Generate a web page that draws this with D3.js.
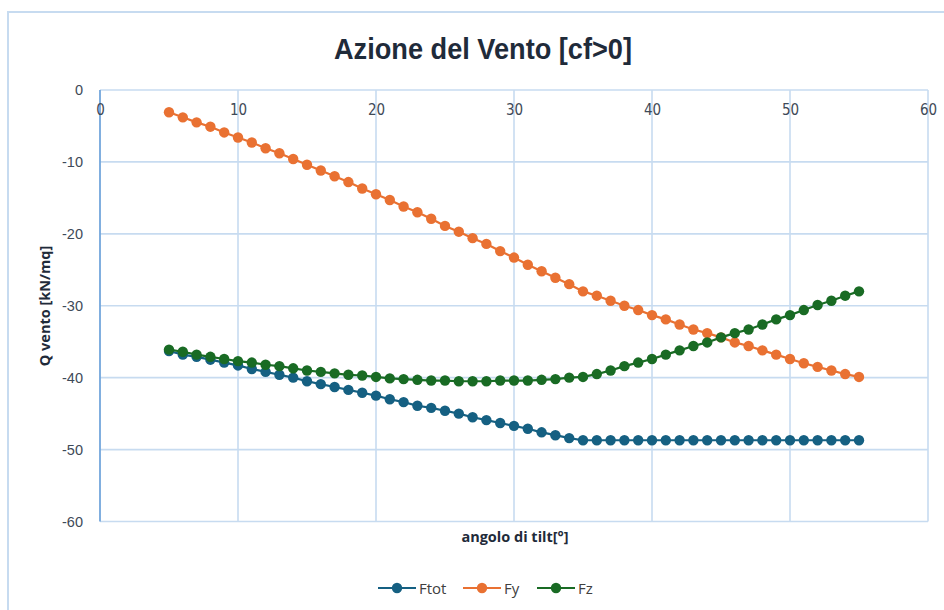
<!DOCTYPE html>
<html>
<head>
<meta charset="utf-8">
<script src="https://cdn.jsdelivr.net/npm/d3@7"></script>
<style>
  html, body { margin: 0; padding: 0; background: #ffffff; }
  svg { display: block; }
</style>
</head>
<body>
<svg id="chart" width="944" height="610"></svg>
<script>
// Tilt angles (degrees)
const tiltAngles = d3.range(5, 56);

// Wind action components [kN/mq]
const fTot = [
  -36.3, -36.8, -37.1, -37.5, -37.9, -38.3, -38.8, -39.2, -39.6, -40.0,
  -40.5, -40.9, -41.3, -41.7, -42.1, -42.5, -43.0, -43.4, -43.9, -44.2,
  -44.6, -45.0, -45.5, -45.9, -46.3, -46.7, -47.1, -47.6, -48.0, -48.4,
  -48.7, -48.7, -48.7, -48.7, -48.7, -48.7, -48.7, -48.7, -48.7, -48.7,
  -48.7, -48.7, -48.7, -48.7, -48.7, -48.7, -48.7, -48.7, -48.7, -48.7,
  -48.7
];
const fY = [
  -3.1, -3.8, -4.5, -5.1, -5.9, -6.6, -7.3, -8.1, -8.8, -9.6,
  -10.4, -11.2, -12.0, -12.8, -13.7, -14.5, -15.3, -16.2, -17.0, -17.9,
  -18.9, -19.7, -20.6, -21.4, -22.4, -23.3, -24.3, -25.2, -26.1, -27.0,
  -28.0, -28.6, -29.3, -30.0, -30.6, -31.3, -31.9, -32.6, -33.3, -33.8,
  -34.4, -35.1, -35.6, -36.2, -36.8, -37.4, -38.0, -38.5, -39.0, -39.5,
  -39.9
];
const fZ = [
  -36.1, -36.4, -36.8, -37.1, -37.4, -37.7, -37.9, -38.2, -38.4, -38.7,
  -39.0, -39.2, -39.4, -39.6, -39.7, -39.9, -40.1, -40.2, -40.3, -40.4,
  -40.4, -40.5, -40.5, -40.5, -40.4, -40.4, -40.4, -40.3, -40.2, -40.0,
  -39.9, -39.5, -39.0, -38.4, -37.9, -37.4, -36.8, -36.2, -35.6, -35.1,
  -34.4, -33.8, -33.3, -32.6, -31.9, -31.3, -30.6, -29.9, -29.3, -28.6,
  -28.0
];

const seriesNames = ["Ftot", "Fy", "Fz"];
const seriesColors = ["#156082", "#E97132", "#196B24"];
const seriesValues = [fTot, fY, fZ];

const xTicks = [0, 10, 20, 30, 40, 50, 60];
const yTicks = [0, -10, -20, -30, -40, -50, -60];

const chartTitle = "Azione del Vento [cf>0]";
const xTitle = "angolo di tilt[°]";
const yTitle = "Q vento [kN/mq]";

const svg = d3.select("#chart");
const plot = { left: 100, right: 928, top: 90, bottom: 521.5 };

const x = d3.scaleLinear().domain([0, 60]).range([plot.left, plot.right]);
const y = d3.scaleLinear().domain([-60, 0]).range([plot.bottom, plot.top]);

const gridColor = "#c7dbf0";
const textColor = "#3e4a58";
const plainNumber = d => String(d);

// Outer chart frame
svg.append("rect")
  .attr("x", 8).attr("y", 12)
  .attr("width", 960).attr("height", 620)
  .attr("fill", "none")
  .attr("stroke", gridColor)
  .attr("stroke-width", 2);

// Title (condensed to the frame's title width)
svg.append("text")
  .attr("x", 334).attr("y", 59)
  .attr("textLength", 298)
  .attr("lengthAdjust", "spacingAndGlyphs")
  .attr("font-family", "'Liberation Sans', Arial, sans-serif")
  .attr("font-weight", "bold")
  .attr("font-size", 29)
  .attr("fill", "#1f2b3a")
  .text(chartTitle);

// Horizontal gridlines
svg.append("g")
  .selectAll("line")
  .data(yTicks)
  .join("line")
  .attr("x1", plot.left).attr("x2", plot.right)
  .attr("y1", d => y(d)).attr("y2", d => y(d))
  .attr("stroke", gridColor)
  .attr("stroke-width", 1.6);

// Vertical gridlines
svg.append("g")
  .selectAll("line")
  .data(xTicks.filter(d => d !== 0))
  .join("line")
  .attr("x1", d => x(d)).attr("x2", d => x(d))
  .attr("y1", plot.top).attr("y2", plot.bottom)
  .attr("stroke", gridColor)
  .attr("stroke-width", 1.6);

// Vertical value axis line at x = 0
svg.append("line")
  .attr("x1", x(0)).attr("x2", x(0))
  .attr("y1", plot.top).attr("y2", plot.bottom)
  .attr("stroke", "#73a6dc")
  .attr("stroke-width", 1.8);

// Y axis tick labels
const yAxis = d3.axisLeft(y).tickValues(yTicks).tickFormat(plainNumber).tickSize(0).tickPadding(17);
const gy = svg.append("g").attr("transform", `translate(${plot.left},0)`).call(yAxis);
gy.select(".domain").remove();
gy.selectAll("text")
  .attr("font-family", "'Liberation Sans', Arial, sans-serif")
  .attr("font-size", 14.5)
  .attr("fill", textColor);

// X axis tick labels (axis crosses at y = 0)
const xAxis = d3.axisBottom(x).tickValues(xTicks).tickFormat(plainNumber).tickSize(0).tickPadding(14);
const gx = svg.append("g").attr("transform", `translate(0,${y(0)})`).call(xAxis);
gx.select(".domain").remove();
gx.selectAll("text")
  .attr("font-family", "'DejaVu Sans Condensed', 'Liberation Sans', sans-serif")
  .attr("font-size", 15)
  .attr("fill", textColor);

// Axis titles
svg.append("text")
  .attr("x", 515).attr("y", 542)
  .attr("text-anchor", "middle")
  .attr("font-family", "'Open Sans', 'Liberation Sans', sans-serif")
  .attr("font-weight", "bold")
  .attr("font-size", 14.5)
  .attr("fill", "#1f2b3a")
  .text(xTitle);

svg.append("text")
  .attr("transform", "translate(50,306) rotate(-90)")
  .attr("text-anchor", "middle")
  .attr("font-family", "'Open Sans', 'Liberation Sans', sans-serif")
  .attr("font-weight", "bold")
  .attr("font-size", 14.5)
  .attr("fill", "#1f2b3a")
  .text(yTitle);

// Series lines and markers
const line = d3.line()
  .x((d, i) => x(tiltAngles[i]))
  .y(d => y(d));

const seriesGroups = svg.append("g")
  .selectAll("g")
  .data(seriesValues.map((vals, k) => ({ vals, color: seriesColors[k] })))
  .join("g");

seriesGroups.append("path")
  .attr("d", d => line(d.vals))
  .attr("fill", "none")
  .attr("stroke", d => d.color)
  .attr("stroke-width", 2.2);

seriesGroups.selectAll("circle")
  .data(d => d.vals.map((v, i) => ({ v, a: tiltAngles[i], color: d.color })))
  .join("circle")
  .attr("cx", d => x(d.a))
  .attr("cy", d => y(d.v))
  .attr("r", 5.2)
  .attr("fill", d => d.color);

// Legend
const legendItems = [
  { name: seriesNames[0], color: seriesColors[0], x0: 378 },
  { name: seriesNames[1], color: seriesColors[1], x0: 463 },
  { name: seriesNames[2], color: seriesColors[2], x0: 537 }
];
const legendY = 588;
const lg = svg.append("g").selectAll("g").data(legendItems).join("g");
lg.append("line")
  .attr("x1", d => d.x0).attr("x2", d => d.x0 + 38)
  .attr("y1", legendY).attr("y2", legendY)
  .attr("stroke", d => d.color)
  .attr("stroke-width", 2.2);
lg.append("circle")
  .attr("cx", d => d.x0 + 19).attr("cy", legendY)
  .attr("r", 5.2)
  .attr("fill", d => d.color);
lg.append("text")
  .attr("x", d => d.x0 + 41).attr("y", legendY + 5.5)
  .attr("font-family", "'Open Sans', 'Liberation Sans', sans-serif")
  .attr("font-size", 15)
  .attr("fill", "#404040")
  .text(d => d.name);
</script>
</body>
</html>
